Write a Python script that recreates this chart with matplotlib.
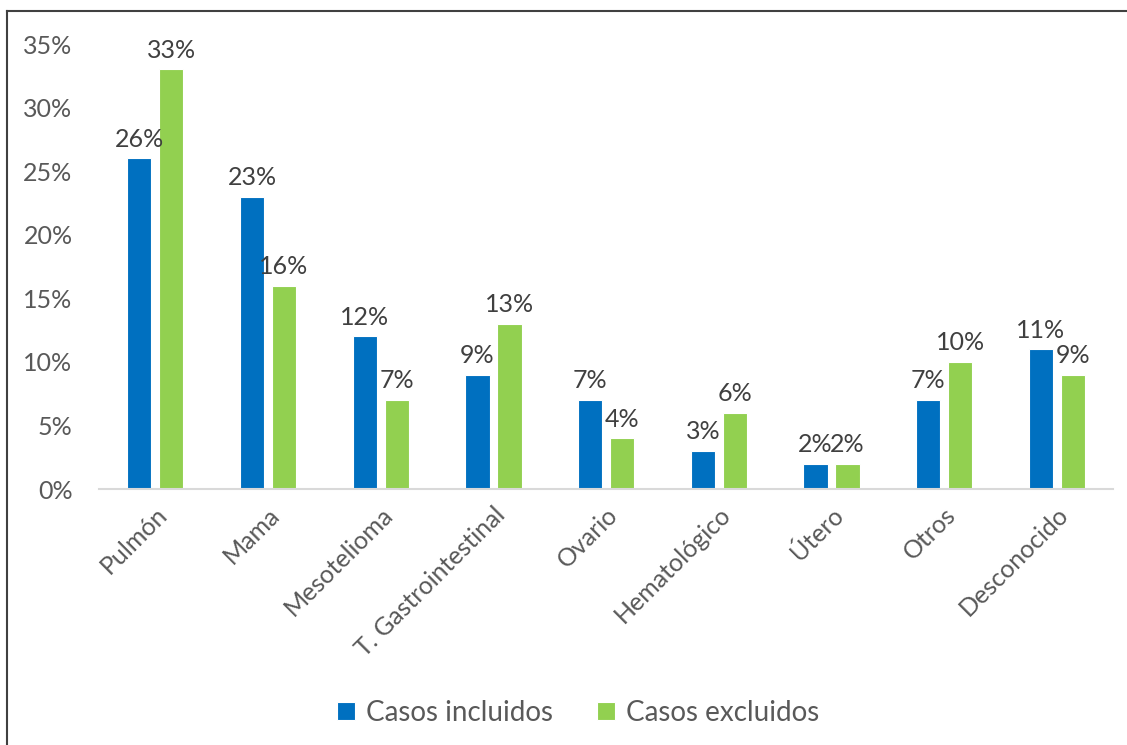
import matplotlib.pyplot as plt
import numpy as np
from matplotlib.lines import Line2D

plt.rcParams['font.family'] = ['Lato', 'DejaVu Sans']

categorias = ['Pulmón', 'Mama', 'Mesotelioma', 'T. Gastrointestinal', 'Ovario',
              'Hematológico', 'Útero', 'Otros', 'Desconocido']
incluidos = [26, 23, 12, 9, 7, 3, 2, 7, 11]
excluidos = [33, 16, 7, 13, 4, 6, 2, 10, 9]
yticks = [0, 5, 10, 15, 20, 25, 30, 35]

azul = '#0070C0'
verde = '#92D050'
gris_txt = '#595959'
txt_etiq = '#404040'

fig = plt.figure(figsize=(11.27, 7.45), dpi=100)
ax = fig.add_axes([0.0878, 0.3436, 0.9, 0.5973])

x = np.arange(len(categorias))
w = 0.215
off = 0.142
b1 = ax.bar(x - off, incluidos, w, color=azul, edgecolor='white', linewidth=0.8, label='Casos incluidos')
b2 = ax.bar(x + off, excluidos, w, color=verde, edgecolor='white', linewidth=0.8, label='Casos excluidos')

for bars, vals in ((b1, incluidos), (b2, excluidos)):
    for r, v in zip(bars, vals):
        ax.text(r.get_x() + r.get_width() / 2, v + 0.6, f'{v}%', ha='center', va='bottom',
                fontsize=18, color=txt_etiq)

ax.set_xlim(-0.5, len(categorias) - 0.5)
ax.set_ylim(0, 35)
ax.set_yticks(yticks)
ax.set_yticklabels([f'{t}%' for t in yticks], fontsize=18, color=gris_txt)
ax.set_xticks(x)
ax.set_xticklabels(categorias, rotation=45, ha='right', rotation_mode='anchor',
                   fontsize=18, color=gris_txt)
ax.tick_params(axis='both', length=0)
ax.tick_params(axis='y', pad=19)
ax.tick_params(axis='x', pad=10)
for s in ['top', 'right', 'left']:
    ax.spines[s].set_visible(False)
ax.spines['bottom'].set_color('#D9D9D9')
ax.spines['bottom'].set_linewidth(1.5)

leg = fig.legend(handles=[b1, b2], loc='center', bbox_to_anchor=(0.513, 0.043), ncol=2,
                 frameon=False, fontsize=20, handlelength=0.65, handleheight=0.65,
                 columnspacing=1.6, handletextpad=0.4)
for t in leg.get_texts():
    t.set_color(gris_txt)

# marco exterior (solo bordes izquierdo y superior visibles)
fig.add_artist(Line2D([7 / 1127, 7 / 1127], [0, 1 - 11 / 745], color='#404040', linewidth=1.5,
                      transform=fig.transFigure))
fig.add_artist(Line2D([7 / 1127, 1], [1 - 11 / 745, 1 - 11 / 745], color='#404040', linewidth=1.5,
                      transform=fig.transFigure))

fig.savefig('out.png', dpi=100)
